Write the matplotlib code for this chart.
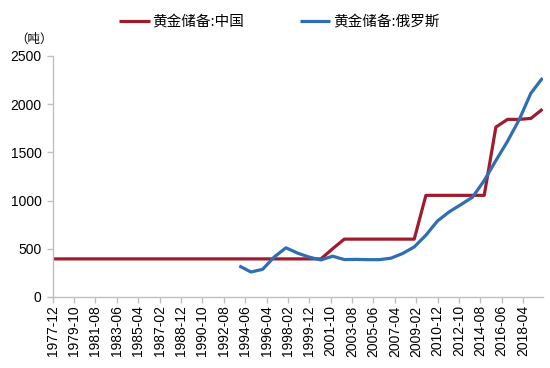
import matplotlib
matplotlib.use("Agg")
import matplotlib.pyplot as plt

plt.rcParams['font.family'] = ['Liberation Sans', 'Noto Sans CJK SC', 'DejaVu Sans']

# ---- data (year-end values, tonnes) ----
china_dates = ["1977-12", "1978-12", "1979-12", "1980-12", "1981-12", "1982-12", "1983-12",
               "1984-12", "1985-12", "1986-12", "1987-12", "1988-12", "1989-12", "1990-12",
               "1991-12", "1992-12", "1993-12", "1994-12", "1995-12", "1996-12", "1997-12",
               "1998-12", "1999-12", "2000-12", "2001-12", "2002-12", "2003-12", "2004-12",
               "2005-12", "2006-12", "2007-12", "2008-12", "2009-12", "2010-12", "2011-12",
               "2012-12", "2013-12", "2014-12", "2015-12", "2016-12", "2017-12", "2018-12",
               "2019-12"]
china_vals = [395, 395, 395, 395, 395, 395, 395,
              395, 395, 395, 395, 395, 395, 395,
              395, 395, 395, 395, 395, 395, 395,
              395, 395, 395, 500, 600, 600, 600,
              600, 600, 600, 600, 1054, 1054, 1054,
              1054, 1054, 1054, 1762, 1842, 1842, 1852,
              1948]

russia_dates = ["1993-12", "1994-12", "1995-12", "1996-12", "1997-12", "1998-12", "1999-12",
                "2000-12", "2001-12", "2002-12", "2003-12", "2004-12", "2005-12", "2006-12",
                "2007-12", "2008-12", "2009-12", "2010-12", "2011-12", "2012-12", "2013-12",
                "2014-12", "2015-12", "2016-12", "2017-12", "2018-12", "2019-12"]
russia_vals = [322, 259, 287, 415, 510, 455, 413,
               384, 423, 388, 390, 387, 387, 402,
               451, 519, 641, 789, 883, 958, 1035,
               1208, 1415, 1615, 1839, 2113, 2271]

tick_labels = ["1977-12", "1979-10", "1981-08", "1983-06", "1985-04", "1987-02", "1988-12",
               "1990-10", "1992-08", "1994-06", "1996-04", "1998-02", "1999-12", "2001-10",
               "2003-08", "2005-06", "2007-04", "2009-02", "2010-12", "2012-10", "2014-08",
               "2016-06", "2018-04"]
axis_end = "2019-12"

label_china = "黄金储备:中国"
label_russia = "黄金储备:俄罗斯"
unit = "（吨）"

def midx(s):
    y, m = s.split("-")
    return (int(y) - 1977) * 12 + (int(m) - 12)

fig = plt.figure(figsize=(5.5, 3.68), dpi=100)
ax = fig.add_axes([0.0958, 0.193, 0.8906, 0.655])

red = "#A01C2C"
blue = "#2F6DB5"
ax.plot([midx(d) for d in china_dates], china_vals, color=red, lw=2.3,
        label=label_china, solid_capstyle="butt")
ax.plot([midx(d) for d in russia_dates], russia_vals, color=blue, lw=2.3,
        label=label_russia, solid_capstyle="butt")

ax.set_xlim(0, midx(axis_end))
ax.set_ylim(0, 2500)
ax.set_yticks([0, 500, 1000, 1500, 2000, 2500])
ax.set_xticks([midx(t) for t in tick_labels])
ax.set_xticklabels(tick_labels, rotation=90)

for s in ["top", "right"]:
    ax.spines[s].set_visible(False)
for s in ["left", "bottom"]:
    ax.spines[s].set_color("#BFBFBF")
    ax.spines[s].set_linewidth(1.0)
ax.tick_params(axis="both", colors="#BFBFBF", labelcolor="black", labelsize=10,
               length=4, width=1.0)
ax.tick_params(axis="x", pad=2)
ax.tick_params(axis="y", pad=4)

fig.text(0.028, 0.885, unit, fontsize=9, family=['Noto Sans CJK SC', 'DejaVu Sans'])

leg = fig.legend(loc="center", bbox_to_anchor=(0.508, 0.94), ncol=2, frameon=False,
                 handlelength=2.1, handletextpad=0.2, columnspacing=3.8,
                 prop={'family': ['Noto Sans CJK SC', 'DejaVu Sans'], 'size': 10.5})

fig.savefig("out.png", dpi=100)
